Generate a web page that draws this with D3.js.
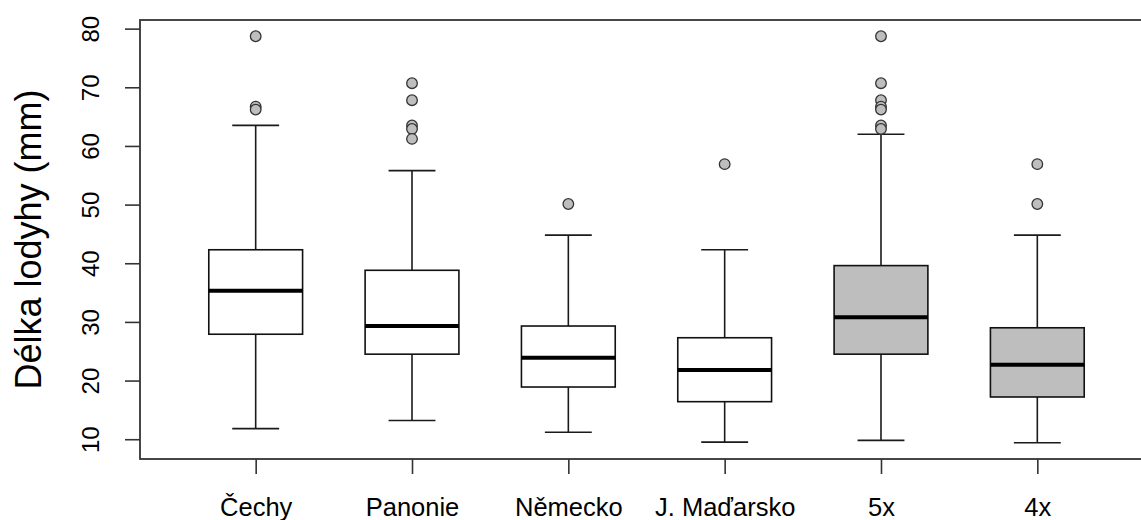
<!DOCTYPE html>
<html>
<head>
<meta charset="utf-8">
<script src="https://cdn.jsdelivr.net/npm/d3@7"></script>
<style>
  html, body { margin: 0; padding: 0; background: #fff; }
  svg { display: block; }
  text { font-family: "Liberation Sans", Arial, sans-serif; fill: #000; }
</style>
</head>
<body>
<svg id="chart" width="1141" height="520"></svg>
<script>
// Stem length by region / ploidy level (box-and-whisker summary)
const categories    = ["Čechy", "Panonie", "Německo", "J. Maďarsko", "5x", "4x"];
const lowerWhisker  = [11.8, 13.2, 11.2, 9.5, 9.8, 9.4];
const q1            = [27.9, 24.5, 18.9, 16.4, 24.5, 17.2];
const medians       = [35.3, 29.3, 23.9, 21.8, 30.8, 22.7];
const q3            = [42.3, 38.8, 29.3, 27.3, 39.6, 29.0];
const upperWhisker  = [63.5, 55.8, 44.8, 42.3, 62.0, 44.8];
const outliers      = [
  [78.7, 66.7, 66.2],
  [70.7, 67.8, 63.5, 62.9, 61.2],
  [50.1],
  [56.9],
  [78.7, 70.7, 67.8, 66.7, 66.2, 63.5, 62.9],
  [56.9, 50.1]
];
const yTicks = [10, 20, 30, 40, 50, 60, 70, 80];
const yTitle = "Délka lodyhy (mm)";

// Styling
const shadedGroups = new Set(["5x", "4x"]);
const boxWidth = 0.6;          // in category units
const capWidth = boxWidth / 2;
const plot = { left: 140, right: 1153, top: 20, bottom: 459 };

const svg = d3.select("#chart");

// R-style axis extents: 4% padding on both ends
const n = categories.length;
const xPad = n * 0.04;
const x = d3.scaleLinear()
  .domain([0.5 - xPad, n + 0.5 + xPad])
  .range([plot.left, plot.right]);

const allVals = lowerWhisker.concat(upperWhisker, outliers.flat());
const yMin = d3.min(allVals), yMax = d3.max(allVals);
const yPad = (yMax - yMin) * 0.04;
const y = d3.scaleLinear()
  .domain([yMin - yPad, yMax + yPad])
  .range([plot.bottom, plot.top]);

const data = categories.map((c, i) => ({
  cat: c, pos: i + 1,
  lo: lowerWhisker[i], q1: q1[i], med: medians[i], q3: q3[i], hi: upperWhisker[i],
  out: outliers[i]
}));

const g = svg.append("g");

// Boxes
const groups = g.selectAll("g.box").data(data).enter().append("g").attr("class", "box");

// whiskers
groups.append("line")
  .attr("x1", d => x(d.pos)).attr("x2", d => x(d.pos))
  .attr("y1", d => y(d.q3)).attr("y2", d => y(d.hi))
  .attr("stroke", "#1a1a1a").attr("stroke-width", 1.6);
groups.append("line")
  .attr("x1", d => x(d.pos)).attr("x2", d => x(d.pos))
  .attr("y1", d => y(d.q1)).attr("y2", d => y(d.lo))
  .attr("stroke", "#1a1a1a").attr("stroke-width", 1.6);
// staples
groups.append("line")
  .attr("x1", d => x(d.pos - capWidth / 2)).attr("x2", d => x(d.pos + capWidth / 2))
  .attr("y1", d => y(d.hi)).attr("y2", d => y(d.hi))
  .attr("stroke", "#1a1a1a").attr("stroke-width", 1.6);
groups.append("line")
  .attr("x1", d => x(d.pos - capWidth / 2)).attr("x2", d => x(d.pos + capWidth / 2))
  .attr("y1", d => y(d.lo)).attr("y2", d => y(d.lo))
  .attr("stroke", "#1a1a1a").attr("stroke-width", 1.6);
// box
groups.append("rect")
  .attr("x", d => x(d.pos - boxWidth / 2))
  .attr("width", d => x(d.pos + boxWidth / 2) - x(d.pos - boxWidth / 2))
  .attr("y", d => y(d.q3))
  .attr("height", d => y(d.q1) - y(d.q3))
  .attr("fill", d => shadedGroups.has(d.cat) ? "#bebebe" : "#ffffff")
  .attr("stroke", "#111").attr("stroke-width", 1.6);
// median
groups.append("line")
  .attr("x1", d => x(d.pos - boxWidth / 2)).attr("x2", d => x(d.pos + boxWidth / 2))
  .attr("y1", d => y(d.med)).attr("y2", d => y(d.med))
  .attr("stroke", "#000").attr("stroke-width", 4);
// outliers
groups.selectAll("circle")
  .data(d => d.out.map(v => ({ pos: d.pos, v })))
  .enter().append("circle")
  .attr("cx", d => x(d.pos)).attr("cy", d => y(d.v))
  .attr("r", 5.3)
  .attr("fill", "#bebebe").attr("stroke", "#333").attr("stroke-width", 1.3);

// Plot frame
g.append("rect")
  .attr("x", plot.left).attr("y", plot.top)
  .attr("width", plot.right - plot.left).attr("height", plot.bottom - plot.top)
  .attr("fill", "none").attr("stroke", "#333").attr("stroke-width", 1.8);

// Y axis
const yAxis = svg.append("g")
  .attr("transform", `translate(${plot.left},0)`)
  .call(d3.axisLeft(y).tickValues(yTicks).tickSize(15).tickFormat(d3.format("d")));
yAxis.select(".domain").remove();
yAxis.selectAll(".tick line").attr("stroke", "#333").attr("stroke-width", 1.6);
yAxis.selectAll(".tick text")
  .attr("x", null).attr("dy", null)
  .attr("transform", "translate(-41,0) rotate(-90)")
  .attr("text-anchor", "middle")
  .attr("font-size", 24)
  .attr("fill", "#111");

// X axis
const xAxis = svg.append("g")
  .attr("transform", `translate(0,${plot.bottom})`)
  .call(d3.axisBottom(x).tickValues(d3.range(1, n + 1)).tickSize(15)
    .tickFormat(i => categories[i - 1]));
xAxis.select(".domain").remove();
xAxis.selectAll(".tick line").attr("stroke", "#333").attr("stroke-width", 1.6);
xAxis.selectAll(".tick text")
  .attr("y", 57).attr("dy", null)
  .attr("font-size", 25.5)
  .attr("fill", "#111");

// Y title
svg.append("text")
  .attr("transform", `translate(41,${(plot.top + plot.bottom) / 2}) rotate(-90)`)
  .attr("text-anchor", "middle")
  .attr("font-size", 36)
  .text(yTitle);
</script>
</body>
</html>
